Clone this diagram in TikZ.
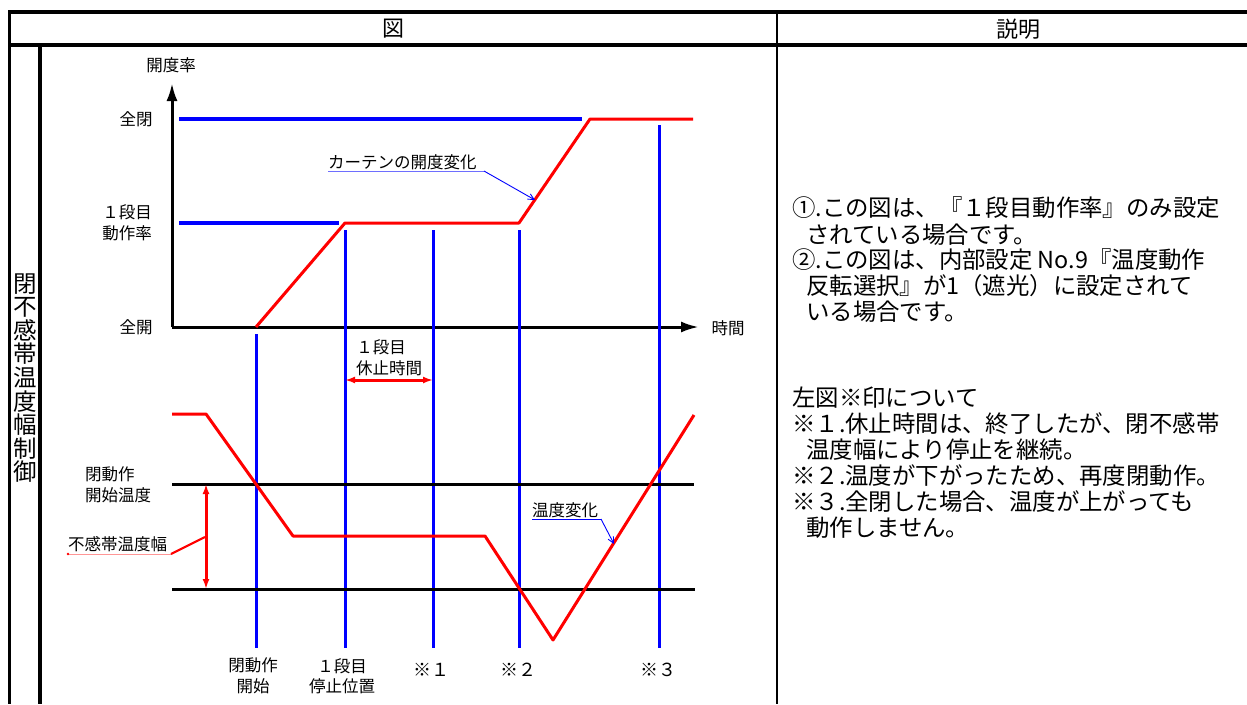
\documentclass[tikz,border=0pt]{standalone}
\usepackage{fontspec}
\setmainfont{Noto Sans CJK JP}
\usetikzlibrary{arrows.meta}
\definecolor{pblue}{RGB}{0,0,255}
\definecolor{pred}{RGB}{255,0,0}
\definecolor{lblue}{RGB}{110,110,255}
\definecolor{lred}{RGB}{255,150,150}
\begin{document}
\begin{tikzpicture}[x=1pt,y=-1pt,
  lbl/.style={font=\fontsize{16.5}{20.5}\selectfont, inner sep=0pt, align=center},
  txt/.style={font=\fontsize{23.4}{26}\selectfont, inner sep=0pt, anchor=base west},
  hdr/.style={font=\fontsize{22}{24}\selectfont, inner sep=0pt},
  bline/.style={draw=pblue, line width=3pt},
  rline/.style={draw=pred, line width=3pt, line join=round},
  kline/.style={draw=black, line width=3pt},
  ldr/.style={draw=pblue, line width=0.9pt},
  dbl/.style={draw=pred, line width=3pt, {Latex[length=10pt,width=7pt]}-{Latex[length=10pt,width=7pt]}},
]
\useasboundingbox[fill=white] (0,0) rectangle (1247,704);

% ---- table frame ----
\draw[line width=3.5pt] (9,12) -- (1247,12);
\draw[line width=4.5pt] (9,45) -- (1247,45);
\draw[line width=3pt] (9,10.3) -- (9,704);
\draw[line width=3.5pt] (40,45) -- (40,704);
\draw[line width=2.5pt] (777,12) -- (777,704);
\node[hdr] (hz) at (393,29) {図};
\node[hdr] (hs) at (1018,29) {説明};
\node[font=\fontsize{23.5}{23.6}\selectfont, align=center, inner sep=0pt] (vt) at (25,378)
  {閉\\不\\感\\帯\\温\\度\\幅\\制\\御};

% ---- upper chart ----
\coordinate (O) at (172,327);
\coordinate (Ytop) at (172,83);
\coordinate (Xend) at (699,327);
\draw[kline, -{Latex[length=18pt,width=11pt]}] (O) -- (Ytop);
\draw[kline, -{Latex[length=18pt,width=11pt]}] (O) -- (Xend);

\coordinate (fa) at (179,119); \coordinate (fb) at (582,119);
\coordinate (sa) at (179,223); \coordinate (sb) at (339,223);
\draw[bline, line width=3.5pt] (fa) -- (fb);
\draw[bline, line width=3.5pt] (sa) -- (sb);

\coordinate (c1) at (256,327); \coordinate (c2) at (345,223);
\coordinate (c3) at (519,223); \coordinate (c4) at (590,119);
\coordinate (c5) at (693,119);
\draw[rline] (c1) -- (c2) -- (c3) -- (c4) -- (c5);

% vertical markers
\coordinate (v1t) at (256,334); \coordinate (v1b) at (256,648);
\coordinate (v2t) at (345,230); \coordinate (v2b) at (345,648);
\coordinate (v3t) at (433,230); \coordinate (v3b) at (433,648);
\coordinate (v4t) at (519,230); \coordinate (v4b) at (519,648);
\coordinate (v5t) at (659,125); \coordinate (v5b) at (659,648);
\foreach \v in {1,...,5} {\draw[bline] (v\v t) -- (v\v b);}

\node[lbl] (lkd) at (171,65) {開度率};
\node[lbl] (lzh) at (136,119) {全閉};
\node[lbl] (l1d) at (127,223) {１段目\\動作率};
\node[lbl] (lzk) at (136,327) {全開};
\node[lbl] (ljk) at (728,328) {時間};

\node[lbl, anchor=south west] (lcurt) at (328,170) {カーテンの開度変化};
\coordinate (cu1) at (328,171); \coordinate (cu2) at (484,171);
\coordinate (cua) at (535,200);
\draw[lblue, line width=1pt] (cu1) -- (cu2);
\draw[ldr, -{Straight Barb[length=6pt,width=6pt]}] (cu2) -- (cua);

\node[lbl] (lkt1) at (381,347) {１段目};
\node[lbl] (lkt2) at (389,368) {休止時間};
\coordinate (ka) at (345,380); \coordinate (kb) at (433,380);
\draw[dbl] (ka) -- (kb);

% ---- lower chart ----
\coordinate (h1a) at (172,484); \coordinate (h1b) at (694,484);
\coordinate (h2a) at (172,589); \coordinate (h2b) at (695,589);
\draw[kline] (h1a) -- (h1b);
\draw[kline] (h2a) -- (h2b);

\coordinate (t1) at (172,414); \coordinate (t2) at (206,414);
\coordinate (t3) at (293,536); \coordinate (t4) at (485,536);
\coordinate (t5) at (553,640); \coordinate (t6) at (694,415);
\draw[rline] (t1) -- (t2) -- (t3) -- (t4) -- (t5) -- (t6);

\coordinate (da) at (206,484); \coordinate (db) at (206,589);
\draw[dbl] (da) -- (db);

\node[lbl, anchor=west, align=left] (lhs) at (85,485) {閉動作\\開始温度};

\node[lbl, anchor=south west] (lfk) at (68,552) {不感帯温度幅};
\coordinate (fu1) at (68,554); \coordinate (fu2) at (171,554);
\coordinate (fua) at (205,537);
\draw[lred, line width=1pt] (fu1) -- (fu2);
\fill[pred] (fu1) circle (1.3pt);
\draw[pred, line width=2.2pt] (fu2) -- (fua);

\node[lbl, anchor=south west] (lod) at (532,518) {温度変化};
\coordinate (ou1) at (532,519); \coordinate (ou2) at (601,519);
\coordinate (oua) at (614,544);
\draw[ldr] (ou1) -- (ou2);
\draw[ldr, -{Straight Barb[length=6pt,width=6pt]}] (ou2) -- (oua);

\node[lbl] (b1) at (253,676) {閉動作\\開始};
\node[lbl] (b2) at (342,676) {１段目\\停止位置};
\node[lbl, font=\fontsize{18}{20}\selectfont] (b3) at (431,670) {※１};
\node[lbl, font=\fontsize{18}{20}\selectfont] (b4) at (518,670) {※２};
\node[lbl, font=\fontsize{18}{20}\selectfont] (b5) at (658,670) {※３};

% ---- explanation ----
\node[txt] (r1) at (792,216) {①.この図は、『１段目動作率』のみ設定};
\node[txt] (r2) at (806,243) {されている場合です。};
\node[txt] (r3) at (792,268) {②.この図は、内部設定 No.9『温度動作};
\node[txt] (r4) at (806,294) {反転選択』が1（遮光）に設定されて};
\node[txt] (r5) at (806,320) {いる場合です。};
\node[txt] (r6) at (792,406) {左図※印について};
\node[txt] (r7) at (792,432) {※１.休止時間は、終了したが、閉不感帯};
\node[txt] (r8) at (806,458) {温度幅により停止を継続。};
\node[txt] (r9) at (792,484) {※２.温度が下がったため、再度閉動作。};
\node[txt] (r10) at (792,510) {※３.全閉した場合、温度が上がっても};
\node[txt] (r11) at (806,536) {動作しません。};
\end{tikzpicture}
\end{document}
